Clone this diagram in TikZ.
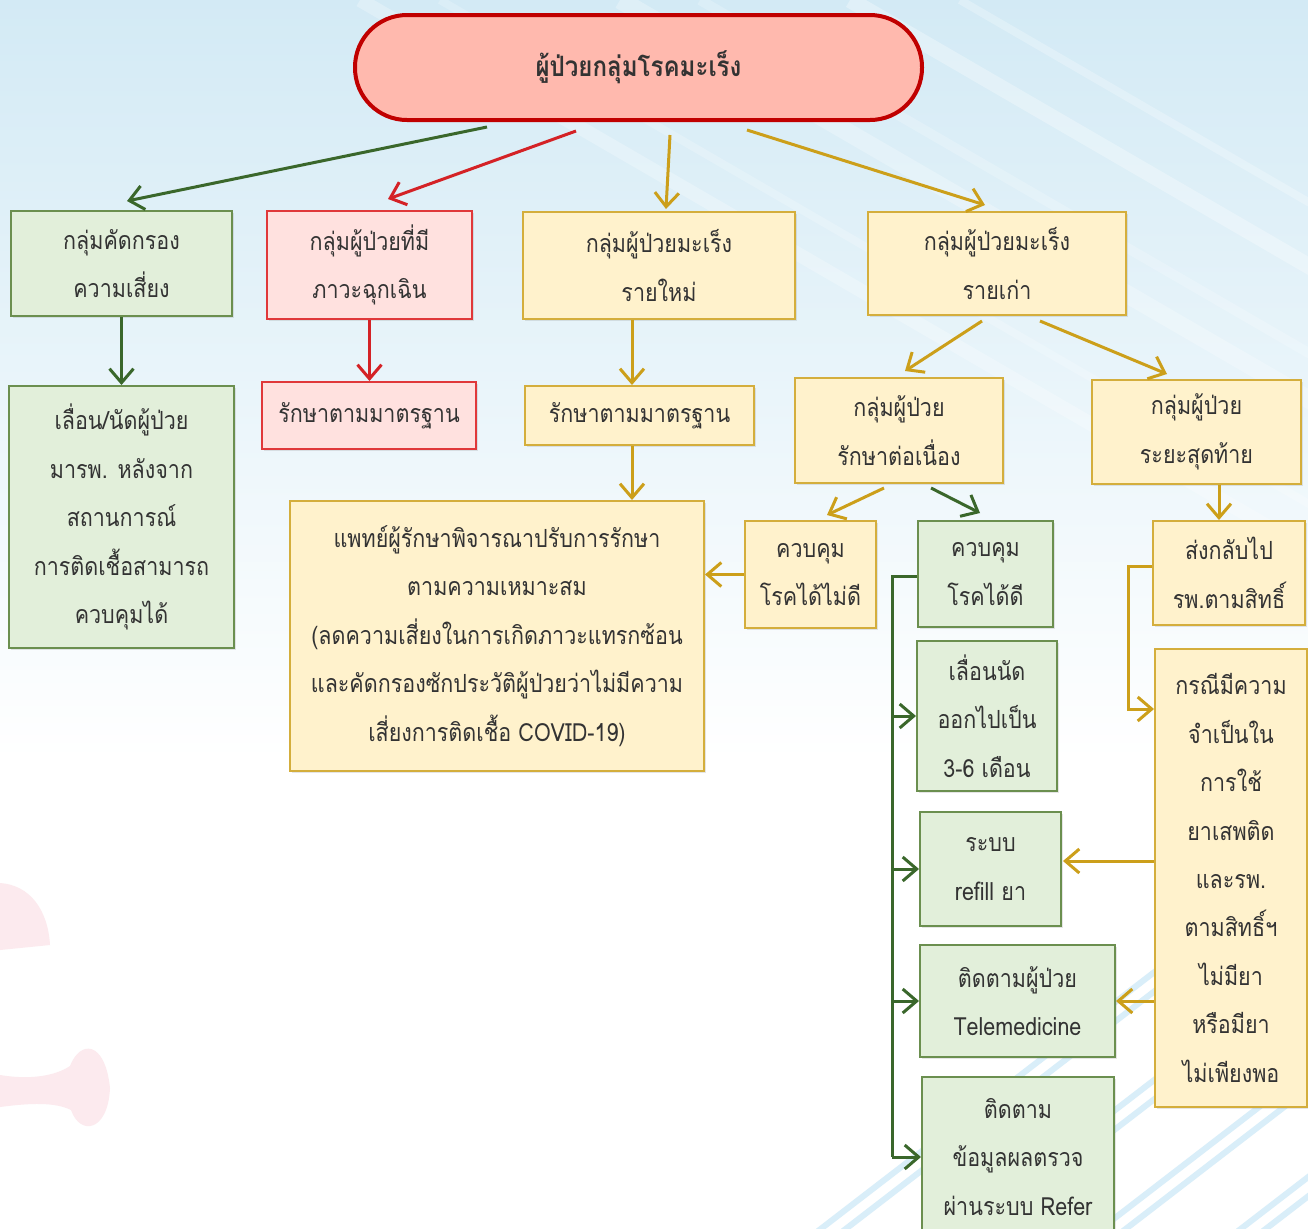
\documentclass[tikz,border=0pt]{standalone}
\usepackage{fontspec}
\newfontfamily\thai[Script=Thai,FakeStretch=0.86]{Loma}
\usetikzlibrary{arrows.meta,calc,shadows}
\definecolor{bgblue}{HTML}{D3EAF5}
\definecolor{gfill}{HTML}{E2EFDA}
\definecolor{gline}{HTML}{6B8F4F}
\definecolor{garrow}{HTML}{3A672B}
\definecolor{rfill}{HTML}{FFE1DF}
\definecolor{rline}{HTML}{E0383A}
\definecolor{rarrow}{HTML}{D42226}
\definecolor{yfill}{HTML}{FFF2CC}
\definecolor{yline}{HTML}{D4AE3C}
\definecolor{yarrow}{HTML}{CC9F1A}
\definecolor{tfill}{HTML}{FFB9AE}
\definecolor{tline}{HTML}{C00000}
\definecolor{txt}{HTML}{333333}
\definecolor{pinkdeco}{HTML}{FCEAEE}
\definecolor{stripe}{HTML}{D9EEF9}
\newcommand\bx[7]{\node[#6, minimum width={(#4-#2)*0.5pt}, minimum height={(#5-#3)*0.5pt}] (#1) at ({(#2+#4)/2},{(#3+#5)/2}) {#7};}
\begin{document}
\begin{tikzpicture}[x=0.5pt,y=-0.5pt,
  font=\thai\fontsize{12.5pt}{24.2pt}\selectfont,
  box/.style={draw, line width=1pt, inner sep=0pt, align=center, text=txt,
    drop shadow={shadow xshift=0.8pt, shadow yshift=-0.8pt, opacity=0.2}},
  gbox/.style={box, fill=gfill, draw=gline},
  rbox/.style={box, fill=rfill, draw=rline},
  ybox/.style={box, fill=yfill, draw=yline},
  arr/.style={line width=1.5pt, -{Straight Barb[length=7pt,width=12pt]}},
  garr/.style={arr, draw=garrow},
  rarr/.style={arr, draw=rarrow},
  yarr/.style={arr, draw=yarrow}]
\useasboundingbox (0,0) rectangle (1308,1228);
\clip (0,0) rectangle (1308,1228);
% background
\fill[white] (0,0) rectangle (1308,1228);
\shade[top color=bgblue, bottom color=white] (0,0) rectangle (1308,760);
\foreach \xo/\w/\op in {360/14/0.25, 440/8/0.2, 620/18/0.25, 700/10/0.2, 850/16/0.3, 960/8/0.25}{
  \draw[white, opacity=\op, line width=\w*0.5pt] (\xo,0) -- ({\xo+1500},{0.58*1500});
}
\foreach \xo in {1190,1215,1330,1355,1470,1495,1610,1635}{
  \draw[stripe, line width=3pt] (\xo-420,1228+40) -- ({\xo+200},{1228+40-0.77*620});
}
\fill[pinkdeco] (0,883) .. controls (30,885) and (48,910) .. (50,945) -- (0,950) -- cycle;
\fill[pinkdeco] (0,1075) .. controls (30,1080) and (55,1076) .. (70,1066)
  .. controls (80,1040) and (105,1040) .. (110,1088)
  .. controls (108,1132) and (80,1136) .. (71,1110)
  .. controls (55,1102) and (30,1103) .. (0,1107) -- cycle;
% title
\node[draw=tline, fill=tfill, line width=2pt, rounded corners=26pt,
  minimum width=283.5pt, minimum height=52.5pt, text=txt,
  font=\thai\bfseries\fontsize{14pt}{16pt}\selectfont] (title) at (638.5,67.5) {ผู้ป่วยกลุ่มโรคมะเร็ง};
% boxes
\bx{b1}{11}{211}{232}{316}{gbox}{กลุ่มคัดกรอง\\ความเสี่ยง}
\bx{b2}{267}{211}{472}{319}{rbox}{กลุ่มผู้ป่วยที่มี\\ภาวะฉุกเฉิน}
\bx{b3}{523}{212}{795}{319}{ybox}{กลุ่มผู้ป่วยมะเร็ง\\รายใหม่}
\bx{b4}{868}{212}{1126}{315}{ybox}{กลุ่มผู้ป่วยมะเร็ง\\รายเก่า}
\bx{b5}{9}{386}{234}{648}{gbox}{เลื่อน/นัดผู้ป่วย\\มารพ. หลังจาก\\สถานการณ์\\การติดเชื้อสามารถ\\ควบคุมได้}
\bx{b6}{262}{382}{476}{449}{rbox}{รักษาตามมาตรฐาน}
\bx{b7}{525}{386}{754}{445}{ybox}{รักษาตามมาตรฐาน}
\bx{b8}{290}{501}{704}{771}{ybox}{แพทย์ผู้รักษาพิจารณาปรับการรักษา\\ตามความเหมาะสม\\(ลดความเสี่ยงในการเกิดภาวะแทรกซ้อน\\และคัดกรองซักประวัติผู้ป่วยว่าไม่มีความ\\เสี่ยงการติดเชื้อ COVID-19)}
\bx{b9}{795}{378}{1003}{483}{ybox}{กลุ่มผู้ป่วย\\รักษาต่อเนื่อง}
\bx{b10}{1092}{380}{1301}{484}{ybox}{กลุ่มผู้ป่วย\\ระยะสุดท้าย}
\bx{b11}{745}{521}{876}{628}{ybox}{ควบคุม\\โรคได้ไม่ดี}
\bx{b12}{918}{521}{1053}{627}{gbox}{ควบคุม\\โรคได้ดี}
\bx{b13}{1153}{521}{1305}{625}{ybox}{ส่งกลับไป\\รพ.ตามสิทธิ์}
\bx{b14}{917}{641}{1057}{791}{gbox}{เลื่อนนัด\\ออกไปเป็น\\3-6 เดือน}
\bx{b15}{920}{812}{1061}{926}{gbox}{ระบบ\\refill ยา}
\bx{b16}{920}{945}{1115}{1057}{gbox}{ติดตามผู้ป่วย\\Telemedicine}
\bx{b17}{922}{1077}{1114}{1237}{gbox}{ติดตาม\\ข้อมูลผลตรวจ\\ผ่านระบบ Refer}
\bx{b18}{1155}{649}{1307}{1107}{ybox}{กรณีมีความ\\จำเป็นใน\\การใช้\\ยาเสพติด\\และรพ.\\ตามสิทธิ์ฯ\\ไม่มียา\\หรือมียา\\ไม่เพียงพอ}
% connectors from title
\draw[garr] ($(title.south)+(-151.5,5)$) -- ($(b1.north)+(5.5,-9)$);
\draw[rarr] ($(title.south)+(-62.5,9)$) -- ($(b2.north)+(18.5,-11)$);
\draw[yarr] ($(title.south)+(31.5,13)$) -- ($(b3.north)+(7,-2)$);
\draw[yarr] ($(title.south)+(108.5,8)$) -- ($(b4.north)+(-12,-6)$);
% vertical connectors
\draw[garr] (b1.south) -- (b5.north);
\draw[rarr] (b2.south) -- (b2.south |- b6.north);
\coordinate (c3) at ($(b3.south)+(-27,0)$);
\draw[yarr] (c3) -- (c3 |- b7.north);
\coordinate (c7) at ($(b7.south)+(-7.5,0)$);
\draw[yarr] (c7) -- (c7 |- b8.north);
% old patients
\draw[yarr] ($(b4.south)+(-15,5)$) -- ($(b9.north)+(6,-6)$);
\draw[yarr] ($(b4.south)+(43,5)$) -- ($(b10.north)+(-29.5,-5)$);
\draw[yarr] ($(b9.south)+(-15,4)$) -- ($(b11.north)+(16.5,-5)$);
\draw[garr] ($(b9.south)+(32,4)$) -- ($(b12.north)+(-5.5,-7)$);
\draw[yarr] (b11.west) -- (b11.west -| b8.east);
\coordinate (c10) at ($(b10.south)+(22.5,0)$);
\draw[yarr] (c10) -- (c10 |- b13.north);
% green trunk
\coordinate (trunk) at ($(b12.west)+(-25,2)$);
\draw[garrow, line width=1.5pt] ($(b12.west)+(0,2)$) -- (trunk) -- (trunk |- b17.west);
\draw[garr] (trunk |- b14.west) -- (b14.west);
\draw[garr] (trunk |- b15.west) -- (b15.west);
\draw[garr] (trunk |- b16.west) -- (b16.west);
\draw[garr] (trunk |- b17.west) -- (b17.west);
% gold from b13 to b18
\coordinate (g13) at ($(b13.west)+(0,-7)$);
\coordinate (g18) at ($(b18.north west)+(0,61)$);
\draw[yarr] (g13) -- ++(-24,0) |- (g18);
\coordinate (r15) at ($(b15.east)+(1,-8)$);
\draw[yarr] (b18.west |- r15) -- (r15);
\draw[yarr] (b18.west |- b16.east) -- (b16.east);
\end{tikzpicture}
\end{document}
